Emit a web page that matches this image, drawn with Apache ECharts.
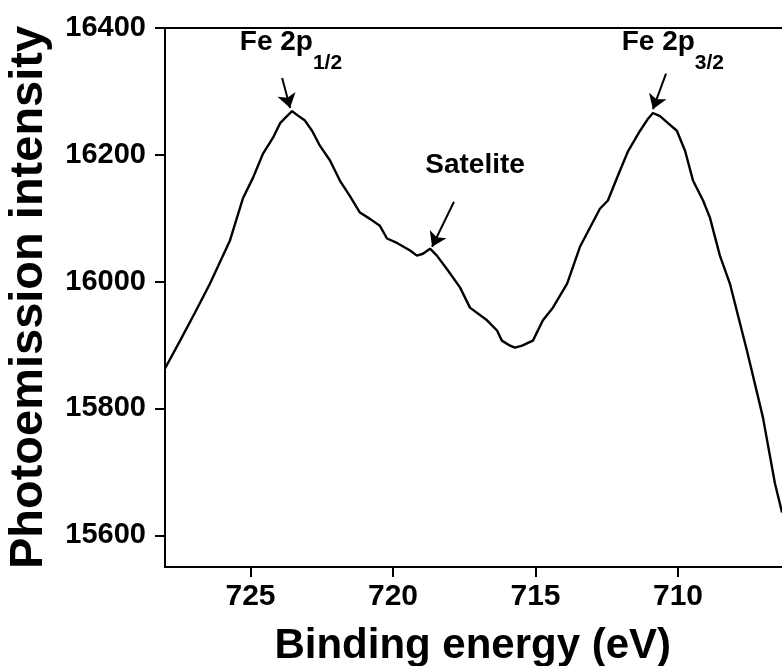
<!DOCTYPE html>
<html>
<head>
<meta charset="utf-8">
<script src="https://cdn.jsdelivr.net/npm/echarts@6/dist/echarts.min.js"></script>
<style>html,body{margin:0;padding:0;background:#fff}#c{width:782px;height:666px}</style>
</head>
<body>
<div id="c"></div>
<script>
// Binding energy (eV)
var energy = [728.00,727.47,726.95,726.42,725.72,725.26,724.91,724.56,724.21,723.96,723.72,723.54,723.37,723.09,722.84,722.56,722.21,721.86,721.51,721.16,720.81,720.46,720.21,719.86,719.40,719.16,718.95,718.70,718.46,718.11,717.65,717.30,716.70,716.35,716.18,715.89,715.72,715.47,715.09,714.74,714.39,713.89,713.44,713.09,712.74,712.46,712.11,711.75,711.33,711.05,710.88,710.63,710.35,710.04,709.75,709.47,709.12,708.88,708.53,708.18,707.58,707.02,706.60,706.35];
// Photoemission intensity
var intensity = [15863,15907,15951,15997,16065,16132,16164,16202,16227,16250,16261,16269,16263,16254,16238,16214,16191,16159,16135,16109,16099,16088,16068,16061,16049,16041,16044,16052,16041,16020,15991,15959,15939,15923,15907,15899,15896,15899,15907,15939,15959,15997,16055,16085,16115,16128,16167,16206,16238,16257,16266,16261,16250,16238,16206,16159,16128,16101,16041,15997,15891,15786,15682,15636];
var yTicks = [15600,15800,16000,16200,16400];
var xTicks = [710,715,720,725];
// annotations
var annLabels = ['Fe 2p', 'Satelite', 'Fe 2p'];
var annSubs = ['1/2', '', '3/2'];
var annText = [[723.58,16364],[717.12,16180],[710.18,16364]];
var annArrowFrom = [[723.89,16321],[717.86,16126],[710.42,16328]];
var annArrowTo = [[723.61,16274],[718.63,16055],[710.88,16272]];

var data = energy.map(function(e,i){return [e,intensity[i]];});
var FONT = '"Liberation Sans", Arial, sans-serif';
var chart = echarts.init(document.getElementById('c'), null, {renderer:'canvas'});
var arrows = annArrowFrom.map(function(f,i){
  return [{coord:f},{coord:annArrowTo[i]}];
});
var option = {
  backgroundColor:'#fff',
  animation:false,
  grid:{left:165, top:28, bottom:99, right:-38.5, show:true, borderColor:'#000', borderWidth:2, containLabel:false, outerBoundsMode:'none'},
  xAxis:{
    type:'value', inverse:true, min:705, max:728,
    name:'Binding energy (eV)', nameLocation:'middle', nameGap:58,
    nameTextStyle:{fontFamily:FONT, fontWeight:'bold', fontSize:42, color:'#000', padding:[0,40,0,0]},
    axisLine:{show:true, lineStyle:{color:'#000', width:2}},
    axisTick:{show:true, inside:false, length:10, lineStyle:{color:'#000', width:2}, customValues:xTicks},
    axisLabel:{fontFamily:FONT, fontWeight:'bold', fontSize:30, color:'#000', margin:15, customValues:xTicks,
      formatter:function(v){return String(v);}},
    splitLine:{show:false}
  },
  yAxis:{
    type:'value', min:15550, max:16400,
    name:'Photoemission intensity', nameLocation:'middle', nameGap:112,
    nameTextStyle:{fontFamily:FONT, fontWeight:'bold', fontSize:47, color:'#000'},
    axisLine:{show:true, lineStyle:{color:'#000', width:2}},
    axisTick:{show:true, inside:false, length:10, lineStyle:{color:'#000', width:2}, customValues:yTicks},
    axisLabel:{fontFamily:FONT, fontWeight:'bold', fontSize:29, color:'#000', margin:19, customValues:yTicks,
      formatter:function(v){return String(v);}},
    splitLine:{show:false}
  },
  series:[{
    type:'line', data:data, showSymbol:false, smooth:false,
    lineStyle:{color:'#000', width:2.4},
    clip:true,
    markLine:{
      silent:true, symbol:['none','arrow'], symbolSize:14, precision:2,
      lineStyle:{color:'#000', width:2, type:'solid'},
      label:{show:false},
      data:arrows
    }
  }]
};
chart.setOption(option);
var g = [];
annLabels.forEach(function(lbl,i){
  var p = chart.convertToPixel({gridIndex:0}, annText[i]);
  var rich = annSubs[i] ? '{a|'+lbl+'}{b|'+annSubs[i]+'}' : '{a|'+lbl+'}';
  g.push({type:'text', x:p[0], y:p[1], style:{
    text:rich, align:'center', verticalAlign:'middle',
    rich:{
      a:{fontFamily:FONT, fontWeight:'bold', fontSize:28, fill:'#000', lineHeight:32, verticalAlign:'top'},
      b:{fontFamily:FONT, fontWeight:'bold', fontSize:21, fill:'#000', lineHeight:45, verticalAlign:'bottom'}
    }
  }});
});
chart.setOption({graphic:g});
</script>
</body>
</html>
